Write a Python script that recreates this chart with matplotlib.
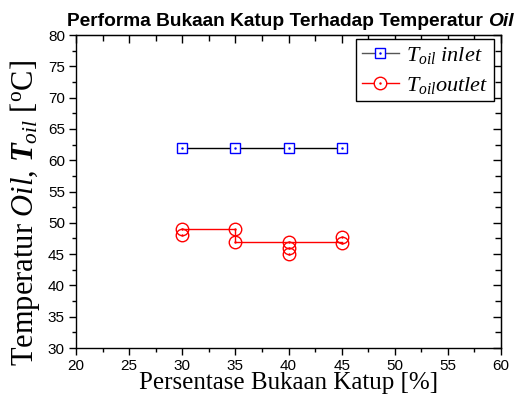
import numpy as np
import matplotlib as mpl
from matplotlib import pyplot as plt
from matplotlib.ticker import MultipleLocator

# data
bukaan = [30, 35, 40, 45]
t_inlet = [62, 62, 62, 62]

bukaan_out = [30, 30, 35, 35, 40, 40, 40, 45, 45]
t_outlet = [48, 49, 49, 47, 47, 46, 45, 46.7, 47.7]

line_out_x = [30, 35, 35, 40, 45]
line_out_y = [49, 49, 47, 47, 47]

mpl.rcParams['font.family'] = 'Liberation Sans'
mpl.rcParams['mathtext.fontset'] = 'custom'
mpl.rcParams['mathtext.rm'] = 'Liberation Serif'
mpl.rcParams['mathtext.it'] = 'Liberation Serif:italic'
mpl.rcParams['mathtext.bf'] = 'Liberation Serif:bold'
mpl.rcParams['mathtext.bfit'] = 'Liberation Serif:bold:italic'

fig = plt.figure(figsize=(5.22, 3.98), dpi=100)
ax = fig.add_axes([0.1456, 0.1256, 0.8142, 0.7864])

# inlet
ax.plot(bukaan, t_inlet, color='black', lw=1, zorder=2)
ax.plot(bukaan, t_inlet, ls='none', marker='s', ms=7.5, mfc='white',
        mec='blue', mew=1, zorder=3)
ax.plot(bukaan, t_inlet, ls='none', marker='.', ms=1.5, color='blue', zorder=4)

# outlet
ax.plot(line_out_x, line_out_y, color='red', lw=1, zorder=2)
ax.plot(bukaan_out, t_outlet, ls='none', marker='o', ms=9, mfc='none',
        mec='red', mew=1, zorder=3)
ax.plot(bukaan_out, t_outlet, ls='none', marker='.', ms=1.5, color='red', zorder=4)

# legend handles
h_in = (ax.plot([], [], color='#555555', lw=1)[0],
        ax.plot([], [], ls='none', marker='s', ms=7.5, mfc='white', mec='blue', mew=1)[0],
        ax.plot([], [], ls='none', marker='.', ms=1.5, color='blue')[0])
h_out = (ax.plot([], [], color='red', lw=1)[0],
         ax.plot([], [], ls='none', marker='o', ms=9, mfc='white', mec='red', mew=1)[0],
         ax.plot([], [], ls='none', marker='.', ms=1.5, color='red')[0])
leg = ax.legend([h_in, h_out], [r'$T_{oil}\ inlet$', r'$T_{oil}outlet$'],
                loc='upper right', bbox_to_anchor=(0.9835, 0.987), borderaxespad=0,
                fontsize=16, fancybox=False, edgecolor='black', framealpha=1,
                handlelength=1.7, borderpad=0.25, labelspacing=0.4, handletextpad=0.3)
leg.get_frame().set_linewidth(1)

ax.set_xlim(20, 60)
ax.set_ylim(30, 80)
ax.xaxis.set_major_locator(MultipleLocator(5))
ax.xaxis.set_minor_locator(MultipleLocator(2.5))
ax.yaxis.set_major_locator(MultipleLocator(5))
ax.yaxis.set_minor_locator(MultipleLocator(2.5))
ax.tick_params(which='both', direction='out', labelsize=11, width=1)
ax.tick_params(which='major', length=5, pad=3)
ax.tick_params(which='minor', length=3)
for s in ax.spines.values():
    s.set_linewidth(1)

# mirrored ticks on top and right point into the plot
top = ax.secondary_xaxis('top')
top.xaxis.set_major_locator(MultipleLocator(5))
top.xaxis.set_minor_locator(MultipleLocator(2.5))
right = ax.secondary_yaxis('right')
right.yaxis.set_major_locator(MultipleLocator(5))
right.yaxis.set_minor_locator(MultipleLocator(2.5))
for sec in (top, right):
    sec.tick_params(which='both', direction='in', width=1,
                    labeltop=False, labelright=False)
    sec.tick_params(which='major', length=6)
    sec.tick_params(which='minor', length=4)

ax.set_xlabel('Persentase Bukaan Katup [%]', family='Liberation Serif', fontsize=18, labelpad=-1)
ax.set_ylabel(r'Temperatur $\mathit{Oil}$, $\mathbfit{T}_{\mathit{oil}}$ [$^{\mathrm{o}}$C]',
              family='Liberation Serif', fontsize=22)
ax.yaxis.set_label_coords(-0.08, 0.431)

# title: plain bold part followed by bold italic "Oil"
t1 = fig.text(0.128, 0.935, 'Performa Bukaan Katup Terhadap Temperatur ', fontsize=13.8,
              fontweight='bold', ha='left', va='baseline')
ax.annotate('Oil', xy=(1, 0), xycoords=t1, fontsize=13.8, fontweight='bold',
            fontstyle='italic', ha='left', va='bottom')

fig.savefig('out.png', dpi=100)
